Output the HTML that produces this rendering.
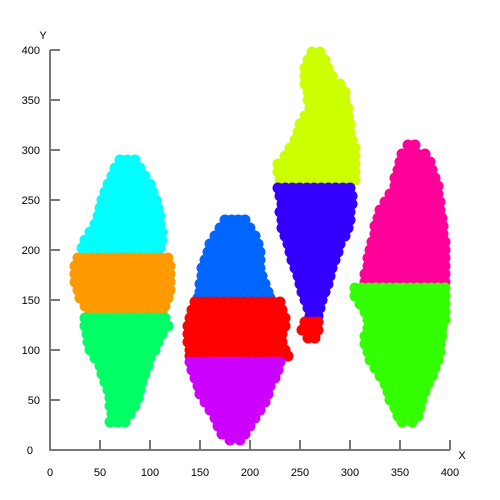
<!DOCTYPE html>
<html><head><meta charset="utf-8"><style>
body{margin:0;background:#fff}
svg{display:block;font-family:"Liberation Sans",sans-serif}
</style></head><body>
<svg id="chart" width="500" height="500">
<g id="pts"></g>
<g id="axes"></g>
</svg>
<script>
const xTicks=[0,50,100,150,200,250,300,350,400];
const yTicks=[0,50,100,150,200,250,300,350,400];
const clusterColors=["#00ffff","#ff9900","#00ff66","#0066ff","#ff0000","#cc00ff","#ccff00","#3300ff","#ff0000","#ff0099","#33ff00"];
const cyanRows=[[290,70,85],[282,65,90],[274,62,95],[266,58,100],[258,55,103],[250,52,106],[242,50,108],[234,48,110],[226,45,110],[218,40,112],[210,35,112],[202,32,110],[196,35,108]];
const orangeRows=[[192,28,118],[184,25,120],[176,25,120],[168,25,120],[160,28,120],[152,30,118],[144,35,115],[138,40,112]];
const springRows=[[132,35,115],[124,35,118],[116,37,112],[108,38,108],[100,40,105],[92,45,100],[84,50,98],[76,52,95],[68,55,92],[60,58,90],[52,60,88],[44,60,85],[36,62,80],[28,60,75]];
const blueRows=[[230,175,195],[222,170,200],[214,165,205],[206,160,208],[198,158,210],[190,155,210],[182,152,210],[174,152,212],[166,150,215],[158,150,218],[152,148,220]];
const redRows=[[148,145,230],[140,142,232],[132,140,235],[124,138,235],[116,138,232],[108,138,232],[100,140,235],[94,140,238]];
const purpleRows=[[88,140,230],[80,142,228],[72,145,225],[64,148,220],[56,150,218],[48,155,215],[40,160,210],[32,165,205],[24,168,200],[16,172,195],[10,180,190]];
const yellowRows=[[398,262,270],[390,258,275],[382,255,278],[374,255,282],[366,255,290],[358,258,295],[350,258,295],[342,260,298],[334,255,298],[326,250,300],[318,248,300],[310,245,302],[302,240,305],[294,235,305],[286,228,305],[278,228,305],[270,230,305]];
const indigoRows=[[262,228,300],[254,230,302],[246,232,302],[238,230,300],[230,232,300],[222,232,298],[214,235,295],[206,238,290],[198,240,288],[190,242,285],[182,245,282],[174,248,280],[166,250,278],[158,252,275],[150,255,272],[142,258,270],[134,260,268]];
const red2Rows=[[128,255,268],[120,252,268],[112,258,265]];
const pinkRows=[[305,358,365],[296,352,375],[288,350,380],[280,348,382],[272,345,385],[264,345,388],[256,340,388],[248,335,390],[240,330,390],[232,328,392],[224,325,393],[216,325,393],[208,322,395],[200,320,395],[192,318,395],[184,318,395],[176,315,395],[168,315,395]];
const greenRows=[[162,305,395],[154,305,395],[146,310,395],[138,315,395],[130,318,395],[122,318,392],[114,315,392],[106,315,390],[98,318,390],[90,320,388],[82,325,385],[74,330,382],[66,335,378],[58,338,375],[50,340,372],[42,345,370],[34,348,368],[28,352,362]];
const clusters=[cyanRows,orangeRows,springRows,blueRows,redRows,purpleRows,yellowRows,indigoRows,red2Rows,pinkRows,greenRows];
const NS="http://www.w3.org/2000/svg";
const sx=v=>50+v*1.0, sy=v=>450-v*1.0;
const pts=document.getElementById('pts'), axes=document.getElementById('axes');
function mk(t,a,p){const e=document.createElementNS(NS,t);for(const k in a)e.setAttribute(k,a[k]);p.appendChild(e);return e;}
clusters.forEach((rows,ci)=>{
  const g=mk('g',{fill:clusterColors[ci]},pts);
  
  
  rows.forEach(r=>{
    const n=Math.max(1,Math.round((r[2]-r[1])/7));
    for(let i=0;i<=n;i++){
      const x=r[1]+(r[2]-r[1])*i/n;
      const c=mk('circle',{cx:sx(x),cy:sy(r[0]),r:5.5},g);
      
      
    }
  });
});
const stroke={stroke:'#777','stroke-width':2,fill:'none'};
const yl=mk('line',Object.assign({x1:50,y1:sy(400),x2:50,y2:451},stroke),axes);


const xl=mk('line',Object.assign({x1:49,y1:450,x2:sx(400),y2:450},stroke),axes);


xTicks.forEach(v=>{
  if(v>0){const t=mk('line',Object.assign({x1:sx(v),y1:450,x2:sx(v),y2:440},stroke),axes);
  
  }
  const l=mk('text',{x:sx(v),y:476,'text-anchor':'middle','font-size':11,fill:'#000'},axes);
  l.textContent=v;
  
  
});
yTicks.forEach(v=>{
  if(v>0){const t=mk('line',Object.assign({x1:50,y1:sy(v),x2:60,y2:sy(v)},stroke),axes);
  
  }
  const l=mk('text',{x:v===0?33:40,y:sy(v)+4,'text-anchor':'end','font-size':11,fill:'#000'},axes);
  l.textContent=v;
  
  
});
const xt=mk('text',{x:462,y:459,'text-anchor':'middle','font-size':11},axes);
xt.textContent='X';


const yt=mk('text',{x:43,y:39,'text-anchor':'middle','font-size':11},axes);
yt.textContent='Y';


</script>
</body></html>
